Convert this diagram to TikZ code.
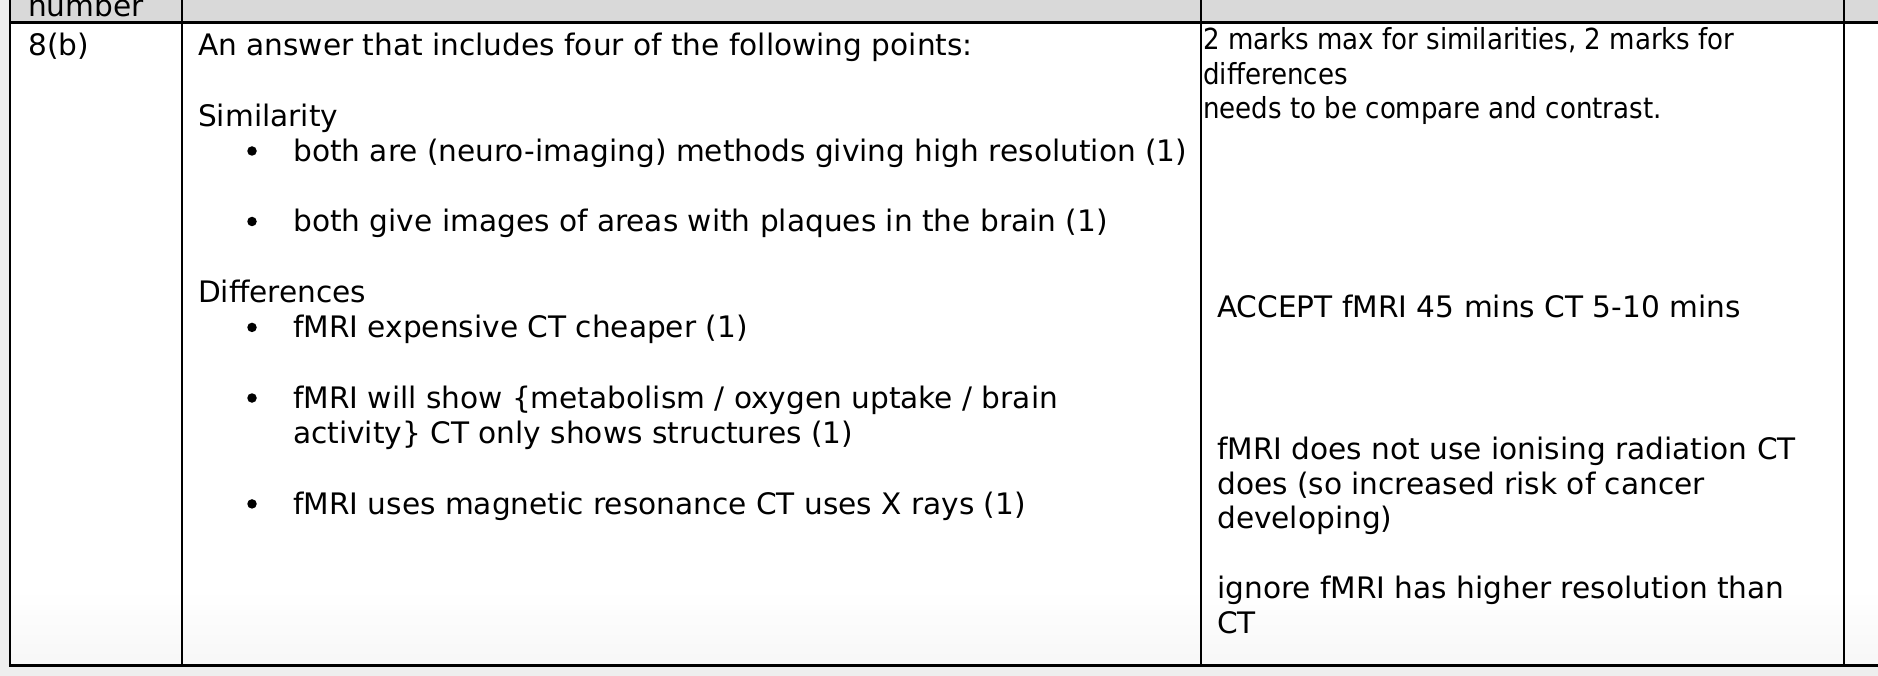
\documentclass[tikz,border=0pt]{standalone}
\usepackage{fontspec}
\setmainfont{DejaVu Sans}
\newfontfamily\notefont{DejaVu Sans Condensed}
\usepackage{tikz}

\definecolor{headgrey}{RGB}{217,217,217}
\definecolor{pagegrey}{RGB}{238,238,238}

\tikzset{
	cell/.style={anchor=base west, inner sep=0pt, font=\fontsize{29.6pt}{35pt}\selectfont},
	note/.style={anchor=base west, inner sep=0pt, font=\notefont\fontsize{29pt}{35pt}\selectfont},
	bulletmark/.style={circle, fill=black, inner sep=0pt, minimum size=9.5pt},
	gridline/.style={line width=2.5pt, black}
}

\begin{document}
\begin{tikzpicture}[x=1pt,y=-1pt]
	\useasboundingbox (0,0) rectangle (1878,676);
	
	% page, header row and body
	\fill[pagegrey] (0,0) rectangle (1878,676);
	\fill[headgrey] (10,0) rectangle (1878,23);
	\fill[white] (10,23) rectangle (1878,665);
	\shade[top color=white, bottom color=black!3] (10,590) rectangle (1878,665);
	
	% table lines
	\draw[gridline, line width=3pt] (10,23) -- (1878,23);
	\draw[gridline, line width=3pt] (8.75,665) -- (1878,665);
	\foreach \x in {10,182,1201,1844}
		\draw[gridline] (\x,0) -- (\x,665);
	
	% first column
	\node[cell] (hdr) at (28,17) {number};
	\node[cell] (qnum) at (28,55.5) {8(b)};
	
	% answer column
	\node[cell] (intro) at (198,55.5) {An answer that includes four of the following points:};
	\node[cell] (simhead) at (198,126.1) {Similarity};
	\node[bulletmark] (b1) at (252,151) {};
	\node[cell] (sim1) at (293,161.4) {both are (neuro-imaging) methods giving high resolution (1)};
	\node[bulletmark] (b2) at (252,221.5) {};
	\node[cell] (sim2) at (293,232) {both give images of areas with plaques in the brain (1)};
	\node[cell] (diffhead) at (198,302.6) {Differences};
	\node[bulletmark] (b3) at (252,327.4) {};
	\node[cell] (diff1) at (293,337.9) {fMRI expensive CT cheaper (1)};
	\node[bulletmark] (b4) at (252,398) {};
	\node[cell] (diff2a) at (293,408.5) {fMRI will show \{metabolism / oxygen uptake / brain};
	\node[cell] (diff2b) at (293,443.8) {activity\} CT only shows structures (1)};
	\node[bulletmark] (b5) at (252,503.9) {};
	\node[cell] (diff3) at (293,514.4) {fMRI uses magnetic resonance CT uses X rays (1)};
	
	% guidance column
	\node[note] (max1) at (1203,50) {2 marks max for similarities, 2 marks for};
	\node[note] (max2) at (1203,85) {differences};
	\node[note] (max3) at (1203,119) {needs to be compare and contrast.};
	\node[cell] (accept) at (1217,317) {ACCEPT fMRI 45 mins CT 5-10 mins};
	\node[cell] (rad1) at (1217,459.5) {fMRI does not use ionising radiation CT};
	\node[cell] (rad2) at (1217,494) {does (so increased risk of cancer};
	\node[cell] (rad3) at (1217,528.5) {developing)};
	\node[cell] (ign1) at (1217,598.5) {ignore fMRI has higher resolution than};
	\node[cell] (ign2) at (1217,633) {CT};
\end{tikzpicture}
\end{document}
